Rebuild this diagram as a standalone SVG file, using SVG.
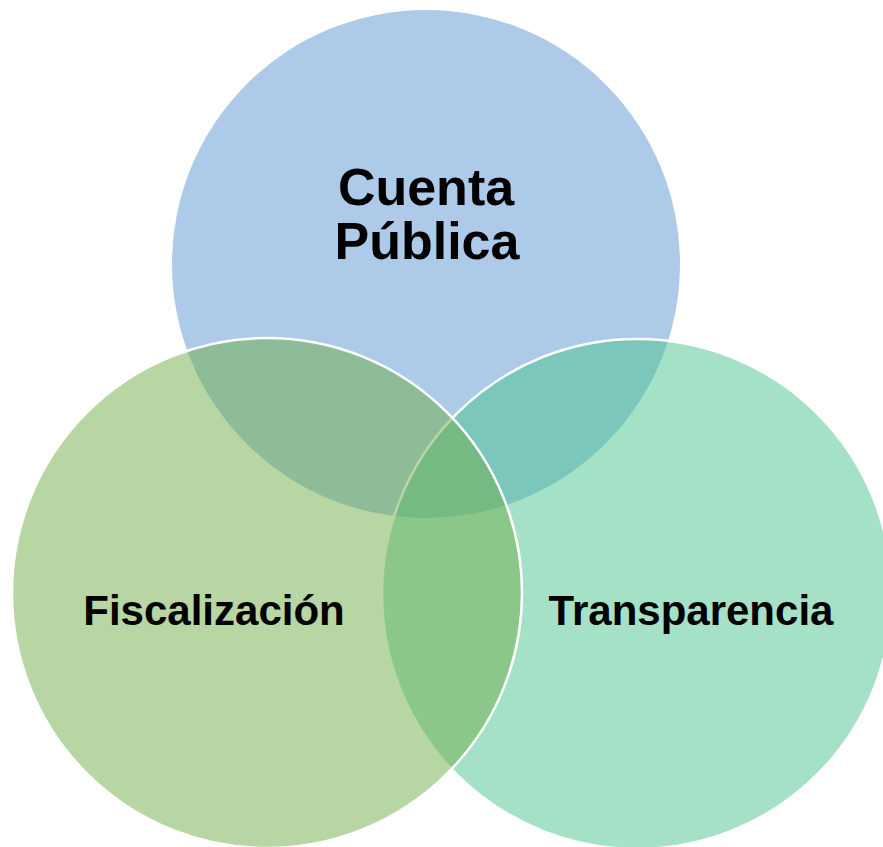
<svg xmlns="http://www.w3.org/2000/svg" width="883" height="847" viewBox="0 0 883 847">
<style>
.lbl{font-family:"Liberation Sans",Arial,sans-serif;font-weight:bold;fill:#000;text-anchor:middle}
.big{font-size:52px}
.mid{font-size:42px}
.ring{stroke:#ffffff;stroke-width:2.5}
</style>
<rect width="883" height="847" fill="#ffffff"/>
<g id="cuenta-publica">
<circle cx="426" cy="264" r="254" fill="#adcbe9"/>
</g>
<g id="transparencia">
<circle class="ring" cx="637" cy="594" r="255" fill="#4bc38f" fill-opacity="0.5"/>
</g>
<g id="fiscalizacion">
<circle class="ring" cx="267" cy="593" r="255" fill="#6fad49" fill-opacity="0.5"/>
</g>
<g id="connectors"></g>
<g id="labels">
<text class="lbl big" x="426" y="205">Cuenta</text>
<text class="lbl big" x="427" y="259">Pública</text>
<text class="lbl mid" x="214" y="625">Fiscalización</text>
<text class="lbl mid" x="691" y="625">Transparencia</text>
</g>
</svg>
